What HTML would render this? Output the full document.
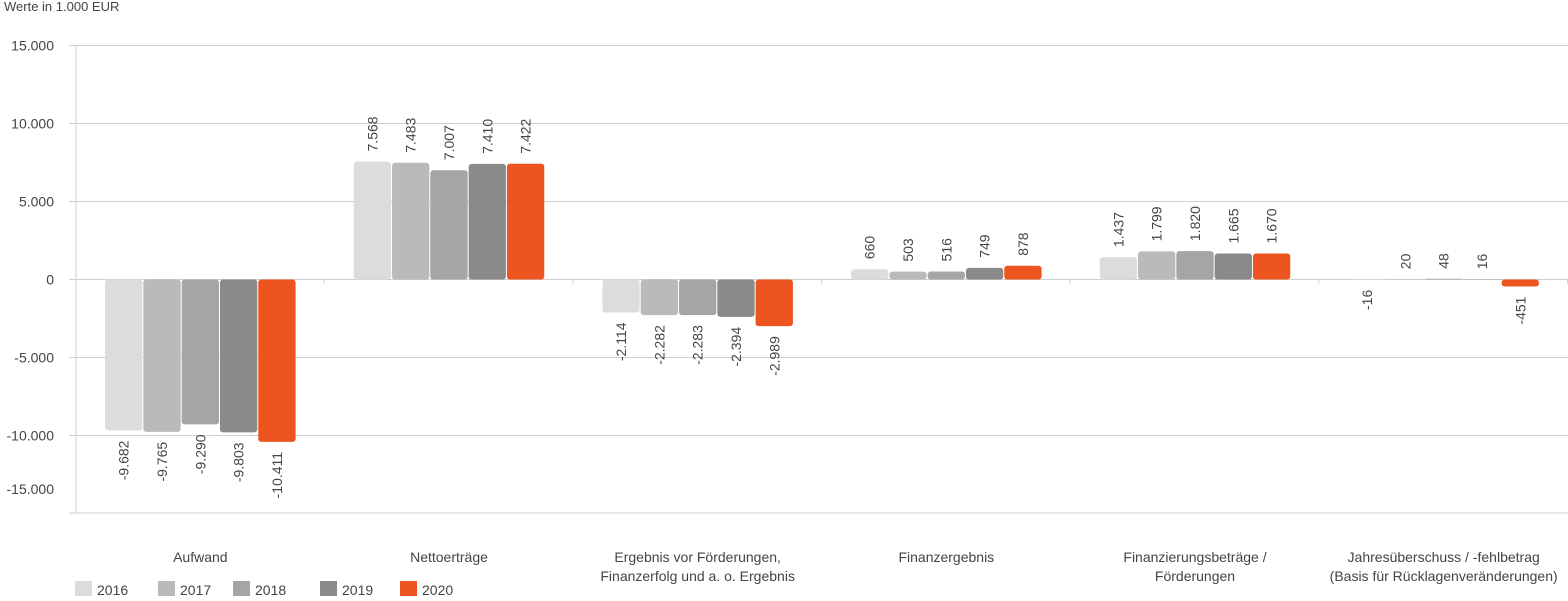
<!DOCTYPE html>
<html><head><meta charset="utf-8"><style>
body{margin:0;background:#fff;width:1568px;height:596px;overflow:hidden;font-family:"Liberation Sans",Arial,sans-serif;}
svg text{font-family:"Liberation Sans",Arial,sans-serif;fill:#444;}
</style></head><body>
<svg id="chart" width="1568" height="596" viewBox="0 0 1568 596" xmlns="http://www.w3.org/2000/svg">
<text x="4" y="11" font-size="13">Werte in 1.000 EUR</text>
<g id="grid"></g>
<g id="bars"></g>
<g id="labels"></g>
<g id="cats"></g>
<g id="legend"></g>
</svg>
<script>
const categories=[["Aufwand"],["Nettoerträge"],["Ergebnis vor Förderungen,","Finanzerfolg und a. o. Ergebnis"],["Finanzergebnis"],["Finanzierungsbeträge /","Förderungen"],["Jahresüberschuss / -fehlbetrag","(Basis für Rücklagenveränderungen)"]];
const years=["2016","2017","2018","2019","2020"];
const s2016=[-9682,7568,-2114,660,1437,-16];
const s2017=[-9765,7483,-2282,503,1799,20];
const s2018=[-9290,7007,-2283,516,1820,48];
const s2019=[-9803,7410,-2394,749,1665,16];
const s2020=[-10411,7422,-2989,878,1670,-451];
const yTicks=[15000,10000,5000,0,-5000,-10000,-15000];
const yTickLabels=["15.000","10.000","5.000","0","-5.000","-10.000","-15.000"];

const series=[s2016,s2017,s2018,s2019,s2020];
const colors=["#dcdcdc","#bababa","#a5a5a5","#8a8a8a","#ee541f"];
const NS="http://www.w3.org/2000/svg";
const x0=76,x1=1568,yZero=279.5,pxPer=78/5000;
const y=v=>yZero-v*pxPer;
const gw=(x1-x0)/categories.length;
function el(tag,attrs,parent){const e=document.createElementNS(NS,tag);for(const k in attrs)e.setAttribute(k,attrs[k]);parent.appendChild(e);return e;}
const fmt=v=>{const s=Math.abs(v).toString().replace(/\B(?=(\d{3})+(?!\d))/g,".");return (v<0?"-":"")+s;};
const grid=document.getElementById("grid");
yTicks.forEach((t,i)=>{
  if(t>-15000){const l=el("line",{x1:69,x2:x1,y1:y(t),y2:y(t),stroke:"#cfcfcf","stroke-width":1},grid);
  
  }
  const tx=el("text",{x:54,y:(t===-15000?494:y(t)+5),"font-size":14,"text-anchor":"end"},grid);
  tx.textContent=yTickLabels[i];
  
  
});
let ax=el("line",{x1:x0,x2:x0,y1:45,y2:513,stroke:"#cfcfcf"},grid);


let bl=el("line",{x1:69,x2:x1,y1:513,y2:513,stroke:"#cfcfcf"},grid);


for(let i=1;i<=categories.length;i++){const tk=el("line",{x1:x0+gw*i-0.5,x2:x0+gw*i-0.5,y1:yZero,y2:yZero+4,stroke:"#cfcfcf"},grid);

}
const bars=document.getElementById("bars"),labels=document.getElementById("labels"),cats=document.getElementById("cats");
const bw=38.3;
categories.forEach((c,ci)=>{
  const cx=x0+gw*ci+gw/2;
  const start=cx-bw*series.length/2;
  series.forEach((s,si)=>{
    const v=s[ci];const bx=start+si*bw;
    const top=Math.min(y(v),yZero),h=Math.abs(y(v)-yZero);
    const r=el("rect",{x:bx+0.5,y:top,width:bw-1,height:h,rx:3,fill:colors[si]},bars);
    
    
    const lx=bx+bw/2+5, ly=v>=0?y(v)-10:y(v)+10;
    const t=el("text",{x:0,y:0,"font-size":14,"text-anchor":v>=0?"start":"end",transform:"translate("+lx+","+ly+") rotate(-90)"},labels);
    t.textContent=fmt(v);
    
    
  });
  c.forEach((line,li)=>{
    const t=el("text",{x:cx,y:562+li*19,"font-size":14,"text-anchor":"middle"},cats);
    t.textContent=line;
    
    
  });
});
const legend=document.getElementById("legend");
const lxs=[75,158,233,320,400];
years.forEach((yr,i)=>{
  const g=el("g",{},legend);
  
  
  el("rect",{x:lxs[i],y:581,width:17,height:15,fill:colors[i]},g);
  const t=el("text",{x:lxs[i]+22,y:595,"font-size":14},g);
  t.textContent=yr;
});
</script>
</body></html>
